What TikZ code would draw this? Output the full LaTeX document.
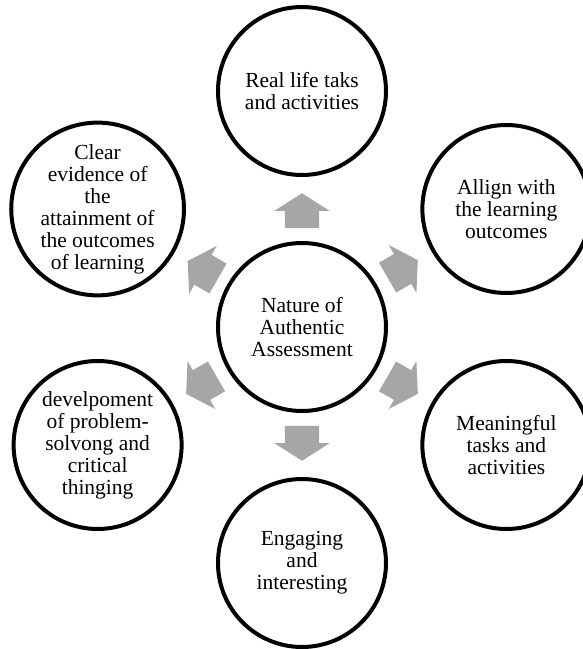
\documentclass[tikz,border=0pt]{standalone}
\usepackage{fontspec}
\setmainfont{Liberation Serif}
\usetikzlibrary{shapes.arrows}
\definecolor{arrowgray}{RGB}{166,166,166}

\begin{document}
\begin{tikzpicture}[x=1pt, y=1pt,
    ring/.style={circle, draw=black, line width=4pt, minimum size=168pt,
      inner sep=0pt, align=center, font=\fontsize{21.5}{22}\selectfont},
    arrowblock/.style={single arrow, fill=arrowgray, draw=none,
      minimum height=35pt, inner xsep=0pt, inner ysep=17pt,
      single arrow head extend=10.5pt, single arrow tip angle=115,
      sloped, allow upside down, pos=0.75, anchor=tip}]
    \useasboundingbox (-302,-322) rectangle (280,327);

    % Hub
    \node[ring] (hub) at (0,0) {Nature of\\Authentic\\Assessment};

    % Outer circles
    \node[ring] (real) at (90:236) {Real life taks\\and activities};
    \node[ring] (allign) at (30:236) {Allign with\\the learning\\outcomes};
    \node[ring] (tasks) at (-30:236) {Meaningful\\tasks and\\activities};
    \node[ring] (engage) at (-90:236) {Engaging\\and\\interesting};
    \node[ring] (solve) at (210:236) {develpoment\\of problem-\\solvong and\\critical\\thinging};
    \node[ring] (clear) at (150:236) {Clear\\evidence of\\the\\attainment of\\the outcomes\\of learning};

    % Block arrows
    \path (hub) -- (real) node[arrowblock] {};
    \path (hub) -- (allign) node[arrowblock] {};
    \path (hub) -- (tasks) node[arrowblock] {};
    \path (hub) -- (engage) node[arrowblock] {};
    \path (hub) -- (solve) node[arrowblock] {};
    \path (hub) -- (clear) node[arrowblock] {};
\end{tikzpicture}
\end{document}
